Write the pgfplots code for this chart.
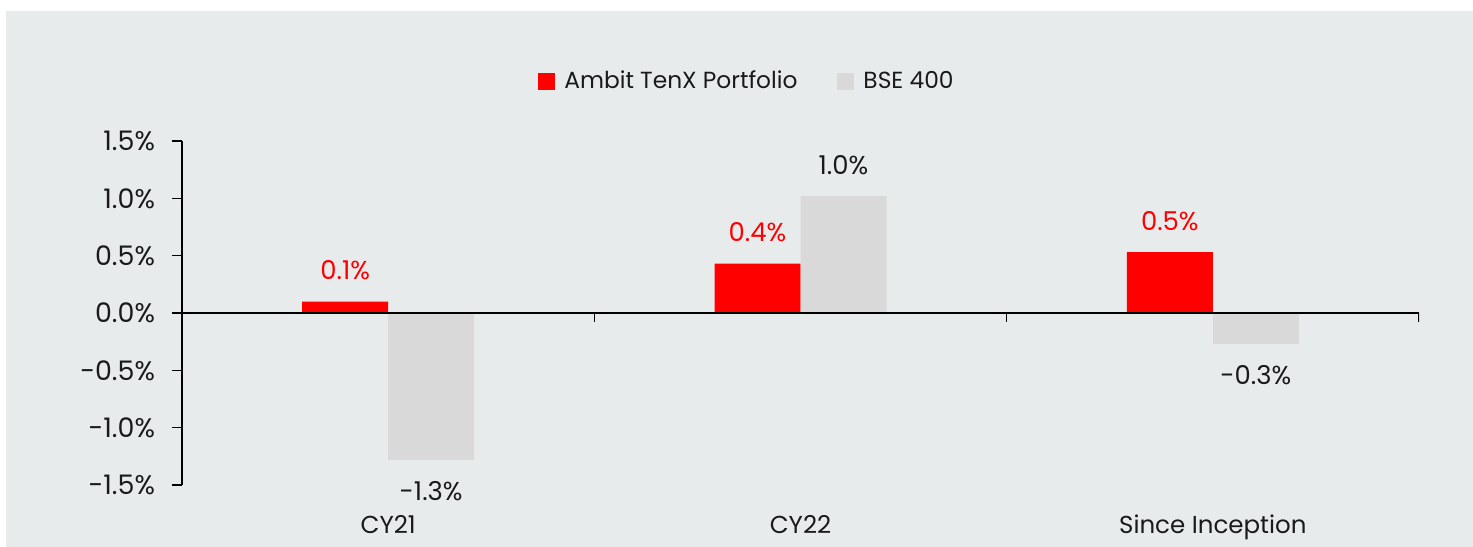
\documentclass[border=0pt]{standalone}
\usepackage{fontspec}
\setmainfont{Poppins}
\usepackage{pgfplots}
\usepackage{pgfplotstable}
\pgfplotsset{compat=1.18}
\definecolor{bg}{HTML}{E8EBEC}
\definecolor{tenx}{HTML}{FF0000}
\definecolor{bse}{HTML}{D9D9D9}
\definecolor{txt}{HTML}{1A1A1A}
\pgfplotstableread{
x tenx bse
0 0.10 -1.28
1 0.43 1.02
2 0.53 -0.27
}\data
\begin{document}
\begin{tikzpicture}
\fill[bg] (-88bp,-31bp) rectangle (645.5bp,237bp);
\begin{axis}[
  scale only axis, width=618.5bp, height=172bp,
  font=\fontsize{13.5}{15}\selectfont,
  xmin=-0.5, xmax=2.5, ymin=-1.5, ymax=1.5,
  ybar=0pt, bar width=43bp,
  axis lines*=left,
  x axis line style={draw=none},
  y axis line style={black, line width=0.75bp},
  xtick={0,1,2},
  xticklabels={CY21,CY22,Since Inception},
  x tick style={draw=none},
  ytick={-1.5,-1,-0.5,0,0.5,1,1.5},
  yticklabels={-1.5\%,-1.0\%,-0.5\%,0.0\%,0.5\%,1.0\%,1.5\%},
  y tick style={black, line width=0.75bp},
  tick align=outside, major tick length=5bp,
  xticklabel style={text=txt, yshift=-6.5bp, font=\fontsize{12.3}{14}\selectfont},
  yticklabel style={text=txt, xshift=-5bp},
  /pgf/number format/assume math mode=true,
  nodes near coords={\pgfmathprintnumber[fixed,fixed zerofill,precision=1]{\pgfplotspointmeta}\%},
  every node near coord/.append style={inner ysep=10.5bp, font=\fontsize{13}{15}\selectfont},
  legend columns=2,
  legend style={draw=none, fill=none, at={(axis description cs:0.4575,1.174)}, anchor=center,
    font=\fontsize{11.7}{14}\selectfont, text=txt,
    /tikz/every even column/.append style={column sep=18bp}},
]
\addplot[fill=tenx, draw=none, every node near coord/.append style={text=tenx},
  legend image code/.code={\fill[tenx] (0bp,-4.25bp) rectangle (8.5bp,4.25bp); \path (11bp,0bp);}]
  table[x=x, y=tenx] {\data};
\addlegendentry{Ambit TenX Portfolio}
\addplot[fill=bse, draw=none, every node near coord/.append style={text=txt},
  legend image code/.code={\fill[bse] (0bp,-4.25bp) rectangle (8.5bp,4.25bp); \path (11bp,0bp);}]
  table[x=x, y=bse] {\data};
\addlegendentry{BSE 400}
\draw[black, line width=0.75bp] (axis cs:-0.5,0) -- (axis cs:2.5,0);
\draw[black, line width=0.75bp] (axis cs:0.5,0) -- ([yshift=-4.5bp]axis cs:0.5,0);
\draw[black, line width=0.75bp] (axis cs:1.5,0) -- ([yshift=-4.5bp]axis cs:1.5,0);
\draw[black, line width=0.75bp] (axis cs:2.5,0) -- ([yshift=-4.5bp]axis cs:2.5,0);
\end{axis}
\pgfresetboundingbox
\useasboundingbox (-91bp,-31bp) rectangle (645.5bp,242.5bp);
\end{tikzpicture}
\end{document}
